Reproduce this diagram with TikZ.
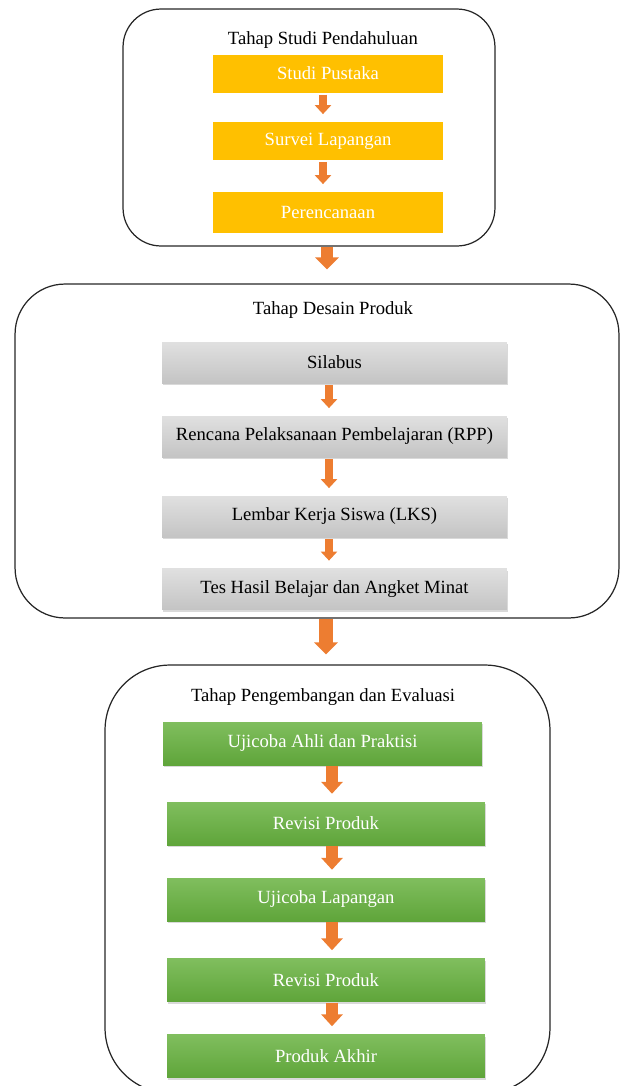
\documentclass[tikz,border=0pt]{standalone}
\usepackage{fontspec}
\setmainfont{Liberation Serif}
\usetikzlibrary{arrows.meta,shadows}
\definecolor{kuning}{HTML}{FFC000}
\definecolor{oranye}{HTML}{ED7D31}
\definecolor{hijauA}{HTML}{80BE5E}
\definecolor{hijauB}{HTML}{5FA53A}
\definecolor{abuA}{HTML}{E0E0E0}
\definecolor{abuB}{HTML}{C4C4C4}

\begin{document}
\begin{tikzpicture}[x=0.02cm, y=-0.02cm, font=\fontsize{10.6}{13}\selectfont,
    wadah/.style={draw=black!85, line width=0.7pt, inner sep=0pt},
    kotakK/.style={fill=kuning, text=white, minimum width=4.6cm, minimum height=0.76cm, inner sep=0pt},
    kotakA/.style={top color=abuA, bottom color=abuB, minimum width=6.9cm, minimum height=0.82cm, inner sep=0pt,
        drop shadow={shadow xshift=0.6pt, shadow yshift=-1.2pt, opacity=0.3}},
    kotakH/.style={top color=hijauA, bottom color=hijauB, text=white, minimum width=6.36cm, minimum height=0.86cm, inner sep=0pt,
        drop shadow={shadow xshift=0.6pt, shadow yshift=-1.2pt, opacity=0.3}},
    panah/.style={oranye, line width=5.1pt, -{Triangle[width=9.1pt,length=5.1pt]}},
    panahH/.style={oranye, line width=6.3pt, -{Triangle[width=12pt,length=6.8pt]}},
    panahB/.style={oranye, line width=#1, -{Triangle[width=13.1pt,length=6.8pt]}}]
    \useasboundingbox (0,0) rectangle (622,1086);
    \clip (0,0) rectangle (622,1086);
    % sumbu panah
    \coordinate (xk) at (323,0);
    \coordinate (xa) at (329,0);
    \coordinate (xh) at (332,0);
    \coordinate (xb1) at (327,0);
    \coordinate (xb2) at (326,0);
    % wadah tiap tahap
    \node[wadah, rounded corners=0.76cm, minimum width=7.44cm, minimum height=4.74cm] (w1) at (309,127.5) {};
    \node[wadah, rounded corners=1cm, minimum width=12.08cm, minimum height=6.68cm] (w2) at (317,451) {};
    \node[wadah, rounded corners=1.3cm, minimum width=8.9cm, minimum height=8.56cm] (w3) at (327.5,879) {};
    \node (t1) at (323,40) {Tahap Studi Pendahuluan};
    \node (t2) at (333,310) {Tahap Desain Produk};
    \node (t3) at (323,697) {Tahap Pengembangan dan Evaluasi};
    % tahap 1
    \node[kotakK] (sp) at (328,73.5) {Studi Pustaka};
    \node[kotakK] (sl) at (328,141) {Survei Lapangan};
    \node[kotakK, minimum height=0.82cm] (pr) at (328,212.5) {Perencanaan};
    % tahap 2
    \node[kotakA] (sil) at (334.5,362.5) {Silabus};
    \node[kotakA] (rpp) at (334.5,436.5) {Rencana Pelaksanaan Pembelajaran (RPP)};
    \node[kotakA] (lks) at (334.5,516.5) {Lembar Kerja Siswa (LKS)};
    \node[kotakA] (tes) at (334.5,589) {Tes Hasil Belajar dan Angket Minat};
    % tahap 3
    \node[kotakH, minimum width=6.38cm] (uah) at (322.5,743.5) {Ujicoba Ahli dan Praktisi};
    \node[kotakH] (rv1) at (326,823.5) {Revisi Produk};
    \node[kotakH] (ul) at (326,899.5) {Ujicoba Lapangan};
    \node[kotakH] (rv2) at (326,980) {Revisi Produk};
    \node[kotakH] (pa) at (326,1056) {Produk Akhir};
    % panah
    \foreach \a/\b in {sp/sl, sl/pr}
        \draw[panah] ([yshift=-1pt]\a.south -| xk) -- ([yshift=4.3pt]\b.north -| xk);
    \foreach \a/\b in {sil/rpp, rpp/lks, lks/tes}
        \draw[panah] ([yshift=-1pt]\a.south -| xa) -- ([yshift=4.3pt]\b.north -| xa);
    \foreach \a/\b in {uah/rv1, rv1/ul, ul/rv2, rv2/pa}
        \draw[panahH] ([yshift=-0.5pt]\a.south -| xh) -- ([yshift=4.5pt]\b.north -| xh);
    \draw[panahB=6.8pt] (w1.south -| xb1) -- ([yshift=8pt]w2.north -| xb1);
    \draw[panahB=8pt] (w2.south -| xb2) -- ([yshift=5.7pt]w3.north -| xb2);
\end{tikzpicture}
\end{document}
